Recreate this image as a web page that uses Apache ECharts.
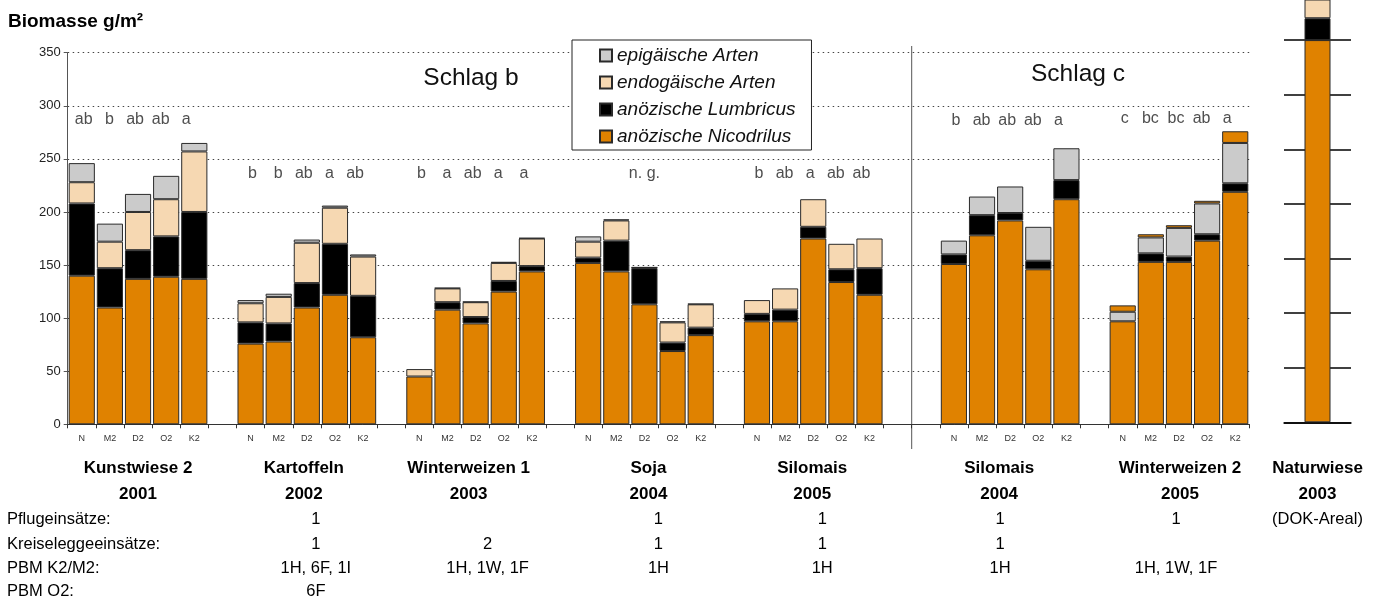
<!DOCTYPE html>
<html><head><meta charset="utf-8">
<script src="https://cdn.jsdelivr.net/npm/echarts@6/dist/echarts.min.js"></script>
<style>html,body{margin:0;padding:0;background:#fff}#c{width:1387px;height:599px}</style>
</head><body><div id="c"></div>
<script>
// ---------------- DATA ----------------
const treatments = ['N', 'M2', 'D2', 'O2', 'K2'];
const groupNames = ['Kunstwiese 2', 'Kartoffeln', 'Winterweizen 1', 'Soja', 'Silomais', 'Silomais', 'Winterweizen 2'];
const groupYears = ['2001', '2002', '2003', '2004', '2005', '2004', '2005'];

// biomass g/m² per group (N, M2, D2, O2, K2)
const nicodrilus = [
  [140, 110, 137, 139, 137],
  [76, 78, 110, 122, 82],
  [45, 108, 95, 125, 144],
  [152, 144, 113, 69, 84],
  [97, 97, 175, 134, 122],
  [151, 178, 192, 146, 212],
  [97, 153, 153, 173, 219]
];
const lumbricus = [
  [68, 37, 27, 38, 63],
  [20, 17, 23, 48, 39],
  [0, 7, 6, 10, 5],
  [5, 29, 34, 8, 7],
  [7, 11, 11, 12, 25],
  [9, 19, 7, 8, 18],
  [0, 8, 5, 6, 8]
];
const endogaeisch = [
  [20, 25, 36, 35, 57],
  [18, 25, 38, 34, 37],
  [7, 13, 14, 17, 26],
  [15, 19, 0.5, 19, 22],
  [13, 20, 26, 24, 28],
  [0, 0, 0, 0, 0],
  [0, 0, 0, 0, 0]
];
const epigaeisch = [
  [18, 17, 17, 22, 8],
  [3, 3, 3, 2, 2],
  [0, 0.5, 0.5, 1, 0.5],
  [5, 1, 0.5, 1, 0.5],
  [0, 0, 0, 0, 0],
  [13, 17.5, 25, 32, 30],
  [9, 15, 27, 29, 38]
];
// unlabelled top segment (orange) in Winterweizen 2
const weitere = [
  [0, 0, 0, 0, 0],
  [0, 0, 0, 0, 0],
  [0, 0, 0, 0, 0],
  [0, 0, 0, 0, 0],
  [0, 0, 0, 0, 0],
  [0, 0, 0, 0, 0],
  [6, 3, 2.5, 2.5, 11]
];
// Naturwiese 2003 (own scale, bar runs off the top)
const naturNicodrilus = [350];
const naturLumbricus = [20];
const naturEndogaeisch = [30];

const letters = [
  ['ab', 'b', 'ab', 'ab', 'a'],
  ['b', 'b', 'ab', 'a', 'ab'],
  ['b', 'a', 'ab', 'a', 'a'],
  ['', '', 'n. g.', '', ''],
  ['b', 'ab', 'a', 'ab', 'ab'],
  ['b', 'ab', 'ab', 'ab', 'a'],
  ['c', 'bc', 'bc', 'ab', 'a']
];

const rowLabels = ['Pflugeinsätze:', 'Kreiseleggeeinsätze:', 'PBM K2/M2:', 'PBM O2:'];
// columns: 7 groups + Naturwiese
const pflug   = ['', '1', '', '1', '1', '1', '1', '(DOK-Areal)'];
const kreisel = ['', '1', '2', '1', '1', '1', '', ''];
const pbmK2M2 = ['', '1H, 6F, 1I', '1H, 1W, 1F', '1H', '1H', '1H', '1H, 1W, 1F', ''];
const pbmO2   = ['', '6F', '', '', '', '', '', ''];

// ---------------- LAYOUT ----------------
const gapAfter = [1, 1, 1, 1, 2, 1];
const letterLevel = [287, 236, 236, 236, 236, 286, 288];
const cats = [];
const groupStart = [];
groupNames.forEach((g, gi) => {
  groupStart.push(cats.length);
  treatments.forEach(t => cats.push(t));
  if (gi < gapAfter.length) for (let k = 0; k < gapAfter[gi]; k++) cats.push('');
});
function spread(arr) {
  const out = cats.map(() => '-');
  arr.forEach((vals, gi) => vals.forEach((v, k) => { out[groupStart[gi] + k] = v > 0 ? v : '-'; }));
  return out;
}
const FONT = 'Liberation Sans, Arial, Helvetica, sans-serif';
const C_NIC = '#E08200', C_LUM = '#000000', C_ENDO = '#F6D8B2', C_EPI = '#CBCBCB';
const BORDER = { borderColor: '#2a2a2a', borderWidth: 1 };

const letterData = [];
letters.forEach((row, gi) => row.forEach((t, k) => {
  if (t) letterData.push({ value: [groupStart[gi] + k, letterLevel[gi], t],
    label: { offset: [t === 'n. g.' ? 0 : 2 - 2.5 * k, 0] } });
}));

const chart = echarts.init(document.getElementById('c'), null, { renderer: 'canvas' });
const mainBar = (name, data, color) => ({
  name, type: 'bar', stack: 'main', xAxisIndex: 0, yAxisIndex: 0,
  data: spread(data), barCategoryGap: '7%',
  itemStyle: Object.assign({ color }, BORDER), emphasis: { disabled: true }, silent: true
});
const natBar = (name, data, color) => ({
  name, type: 'bar', stack: 'natur', xAxisIndex: 1, yAxisIndex: 1,
  data, barWidth: 26,
  itemStyle: Object.assign({ color }, BORDER), emphasis: { disabled: true }, silent: true
});

chart.setOption({
  animation: false,
  textStyle: { fontFamily: FONT },
  grid: [
    { left: 67.7, right: 137.7, top: 52.7, bottom: 174.7 },
    { left: 1284, right: 36, top: 0, bottom: 176.7 }
  ],
  legend: {
    data: ['epigäische Arten', 'endogäische Arten', 'anözische Lumbricus', 'anözische Nicodrilus'],
    orient: 'vertical', left: 572, top: 40,
    backgroundColor: '#fff', borderColor: '#222', borderWidth: 1,
    padding: [6, 16, 4, 27], itemGap: 8, itemWidth: 12, itemHeight: 12,
    icon: 'rect', selectedMode: false,
    textStyle: { fontSize: 19, fontStyle: 'italic', color: '#111', fontFamily: FONT }
  },
  xAxis: [
    { type: 'category', gridIndex: 0, data: cats,
      axisLine: { lineStyle: { color: '#333', width: 1 } },
      axisTick: { show: true, interval: 0, length: 4, lineStyle: { color: '#333' } },
      axisLabel: { interval: 0, fontSize: 9, color: '#333', margin: 10 } },
    { type: 'category', gridIndex: 1, data: ['Naturwiese'],
      axisLine: { lineStyle: { color: '#000', width: 1.5 } },
      axisTick: { show: false }, axisLabel: { show: false } }
  ],
  yAxis: [
    { type: 'value', gridIndex: 0, min: 0, max: 350, interval: 50,
      axisLine: { show: true, lineStyle: { color: '#555' } },
      axisTick: { show: true, length: 4, lineStyle: { color: '#555' } },
      axisLabel: { fontSize: 13, color: '#222', margin: 7 },
      splitLine: { show: true, lineStyle: { color: '#444', type: [1.5, 3.5], width: 1 } } },
    { type: 'value', gridIndex: 1, min: 0, max: 386.7, interval: 50,
      axisLine: { show: false }, axisTick: { show: false }, axisLabel: { show: false },
      splitLine: { show: true, showMaxLine: false, lineStyle: { color: '#000', width: 1.5 } } }
  ],
  series: [
    mainBar('anözische Nicodrilus', nicodrilus, C_NIC),
    mainBar('anözische Lumbricus', lumbricus, C_LUM),
    mainBar('endogäische Arten', endogaeisch, C_ENDO),
    mainBar('epigäische Arten', epigaeisch, C_EPI),
    mainBar('weitere', weitere, C_NIC),
    natBar('anözische Nicodrilus', naturNicodrilus, C_NIC),
    natBar('anözische Lumbricus', naturLumbricus, C_LUM),
    natBar('endogäische Arten', naturEndogaeisch, C_ENDO),
    { type: 'scatter', xAxisIndex: 0, yAxisIndex: 0, data: letterData, symbolSize: 0, silent: true, z: 5,
      label: { show: true, position: 'inside', fontSize: 16, color: '#222', fontFamily: FONT,
        formatter: p => p.data.value[2] } }
  ]
});

// ---------------- TEXT / DECORATIONS ----------------
const px = i => chart.convertToPixel({ xAxisIndex: 0 }, i);
const colX = groupStart.map(s => px(s + 2));
colX.push(chart.convertToPixel({ xAxisIndex: 1 }, 0));
const headerDx = [0, -3, -7, 4, -1, -11, 1, 0];
const valueDx = [0, 9, 12, 14, 9, -10, -3, 0];
const sepX = (px(29) + px(30)) / 2;
const g = [];
g.push({ type: 'text', left: 8, top: 12, style: { text: 'Biomasse g/m²', font: 'bold 19px ' + FONT, fill: '#000' } });
g.push({ type: 'text', x: 471, y: 78, style: { text: 'Schlag b', font: '24.5px ' + FONT, fill: '#111', textAlign: 'center', textVerticalAlign: 'middle' } });
g.push({ type: 'text', x: 1078, y: 74, style: { text: 'Schlag c', font: '24.5px ' + FONT, fill: '#111', textAlign: 'center', textVerticalAlign: 'middle' } });
g.push({ type: 'line', shape: { x1: sepX, y1: 46, x2: sepX, y2: 449 }, style: { stroke: '#555', lineWidth: 1 } });
const headers = groupNames.concat(['Naturwiese']);
const years = groupYears.concat(['2003']);
headers.forEach((h, i) => {
  g.push({ type: 'text', x: colX[i] + headerDx[i], y: 468, style: { text: h, font: 'bold 17px ' + FONT, fill: '#000', textAlign: 'center', textVerticalAlign: 'middle' } });
  g.push({ type: 'text', x: colX[i] + headerDx[i], y: 494, style: { text: years[i], font: 'bold 17px ' + FONT, fill: '#000', textAlign: 'center', textVerticalAlign: 'middle' } });
});
const rows = [pflug, kreisel, pbmK2M2, pbmO2];
const rowY = [519, 544, 568, 591];
rowLabels.forEach((r, ri) => {
  g.push({ type: 'text', x: 7, y: rowY[ri], style: { text: r, font: '16.5px ' + FONT, fill: '#000', textVerticalAlign: 'middle' } });
  rows[ri].forEach((t, ci) => {
    if (t) g.push({ type: 'text', x: colX[ci] + valueDx[ci], y: rowY[ri], style: { text: t, font: '16.5px ' + FONT, fill: '#000', textAlign: 'center', textVerticalAlign: 'middle' } });
  });
});
chart.setOption({ graphic: g });
</script>
</body></html>
